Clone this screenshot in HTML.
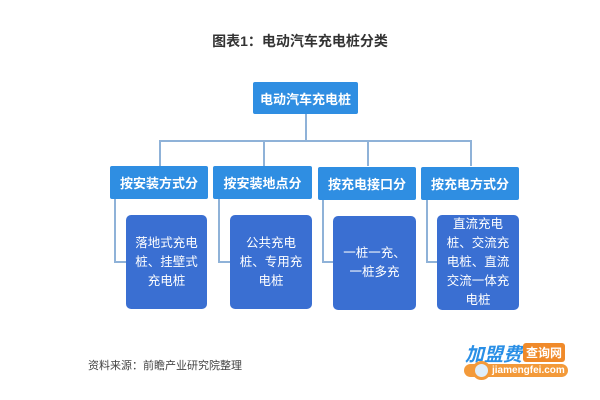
<!DOCTYPE html>
<html><head><meta charset="utf-8"><style>
body{margin:0;width:600px;height:400px;background:#fff;position:relative;overflow:hidden;font-family:"Liberation Sans","Noto Sans CJK SC",sans-serif}
.b{position:absolute;color:#fff;display:flex;align-items:center;justify-content:center;text-align:center;font-weight:bold;box-sizing:border-box}
.t{background:#2f8ee2;font-size:13px;border-radius:2px}
.c{background:#3a6fd2;font-size:12.5px;line-height:19px;border-radius:5px;padding:0 5px;font-weight:normal}
.l{position:absolute;background:#8fb2d8}
</style></head><body>
<div style="position:absolute;top:31px;left:0;width:600px;text-align:center;font-size:14px;font-weight:bold;color:#333">图表1：电动汽车充电桩分类</div>
<div class="l" style="left:305px;top:114px;width:2px;height:28px"></div>
<div class="l" style="left:159px;top:140px;width:312px;height:2px"></div>
<div class="l" style="left:159px;top:140px;width:2px;height:26px"></div>
<div class="l" style="left:263px;top:140px;width:2px;height:26px"></div>
<div class="l" style="left:367px;top:140px;width:2px;height:26px"></div>
<div class="l" style="left:470px;top:140px;width:2px;height:26px"></div>
<div class="l" style="left:114px;top:199px;width:2px;height:64px"></div>
<div class="l" style="left:114px;top:261px;width:12px;height:2px"></div>
<div class="l" style="left:218px;top:199px;width:2px;height:64px"></div>
<div class="l" style="left:218px;top:261px;width:12px;height:2px"></div>
<div class="l" style="left:322px;top:199px;width:2px;height:64px"></div>
<div class="l" style="left:322px;top:261px;width:12px;height:2px"></div>
<div class="l" style="left:426px;top:199px;width:2px;height:64px"></div>
<div class="l" style="left:426px;top:261px;width:12px;height:2px"></div>
<div class="b t" style="left:253px;top:82px;width:105px;height:32px">电动汽车充电桩</div>
<div class="b t" style="left:110px;top:166px;width:98px;height:33px">按安装方式分</div>
<div class="b t" style="left:213px;top:166px;width:99px;height:33px">按安装地点分</div>
<div class="b t" style="left:318px;top:167px;width:98px;height:33px">按充电接口分</div>
<div class="b t" style="left:421px;top:167px;width:98px;height:33px">按充电方式分</div>
<div class="b c" style="left:126px;top:215px;width:81px;height:94px">落地式充电桩、挂壁式充电桩</div>
<div class="b c" style="left:230px;top:215px;width:82px;height:94px">公共充电桩、专用充电桩</div>
<div class="b c" style="left:333px;top:216px;width:83px;height:94px">一桩一充、一桩多充</div>
<div class="b c" style="left:437px;top:215px;width:82px;height:95px">直流充电桩、交流充电桩、直流交流一体充电桩</div>
<div style="position:absolute;left:88px;top:357px;font-size:11px;color:#444">资料来源：前瞻产业研究院整理</div>
<div style="position:absolute;left:465px;top:340px;font-size:19px;font-weight:bold;color:#2a8fe6;font-style:italic">加盟费</div>
<div style="position:absolute;left:523px;top:343px;background:#f08a2a;color:#fff;font-size:12px;font-weight:bold;padding:1px 3px;border-radius:3px">查询网</div>
<div style="position:absolute;left:464px;top:364px;width:104px;height:13px;background:#f39a3a;border-radius:7px;color:#fff;font-size:10px;font-weight:bold;line-height:13px;padding-left:28px;box-sizing:border-box">jiamengfei.com</div>
<div style="position:absolute;left:472px;top:361px;width:13px;height:13px;border:3px solid #f39a3a;border-radius:50%;background:#dfeefa"></div>
</body></html>
